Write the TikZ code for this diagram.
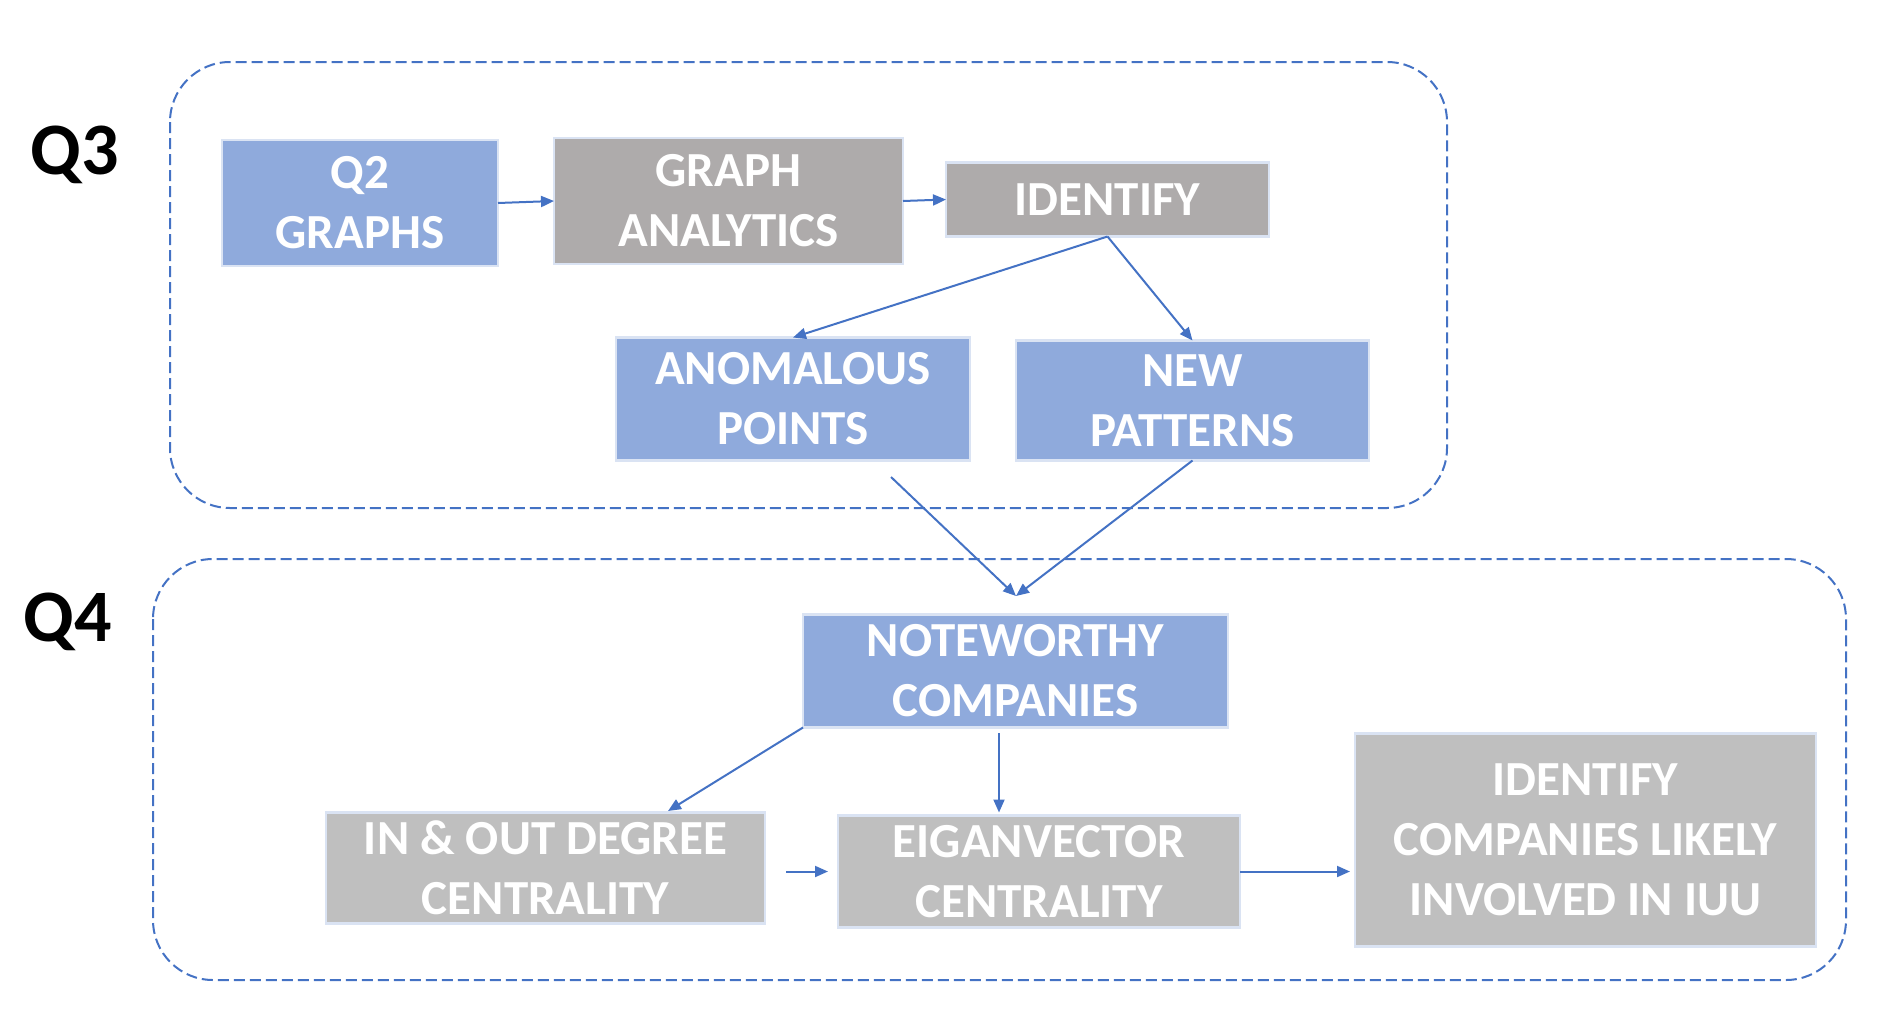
\documentclass[tikz,border=0pt]{standalone}
\usepackage{fontspec}
\setmainfont{Carlito}
\usetikzlibrary{arrows.meta,calc}
\definecolor{lineblue}{HTML}{4472C4}
\definecolor{boxblue}{HTML}{8FAADC}
\definecolor{boxgreyA}{HTML}{AEABAB}
\definecolor{boxgreyB}{HTML}{BFBFBF}
\definecolor{edgepale}{HTML}{DAE3F3}
\begin{document}
\begin{tikzpicture}[x=1pt,y=-1pt,
  box/.style={draw=edgepale, line width=2.5pt, inner sep=0pt, outer sep=0pt,
    text=white, align=center, font=\bfseries\fontsize{49}{60}\selectfont},
  bluebox/.style={box, fill=boxblue},
  greyA/.style={box, fill=boxgreyA},
  greyB/.style={box, fill=boxgreyB},
  group/.style={draw=lineblue, line width=2pt, dash pattern=on 11pt off 5pt, rounded corners=60pt},
  flow/.style={draw=lineblue, line width=2pt, -{Triangle[length=13pt,width=11pt]}},
  qlabel/.style={font=\bfseries\fontsize{74}{80}\selectfont, text=black, inner sep=0pt}
]
\useasboundingbox (0,0) rectangle (1880,1026);

% group frames
\draw[group] (170,62) rectangle (1447,508);
\draw[group] (153,559) rectangle (1846,980);
\node[qlabel] (lq3) at (75,155) {Q3};
\node[qlabel] (lq4) at (68,622) {Q4};

% upper stage
\node[bluebox, minimum width=276pt, minimum height=126pt] (q2) at (360,203) {Q2\\GRAPHS};
\node[greyA, minimum width=349pt, minimum height=126pt] (ga) at (728.5,201) {GRAPH\\ANALYTICS};
\node[greyA, minimum width=323pt, minimum height=74pt] (idf) at (1107.5,199.5) {IDENTIFY};
\node[bluebox, minimum width=354pt, minimum height=123pt] (anom) at (793,399) {ANOMALOUS\\POINTS};
\node[bluebox, minimum width=353pt, minimum height=120pt] (newp) at (1192.5,400.5) {NEW\\PATTERNS};

% lower stage
\node[bluebox, minimum width=425pt, minimum height=113pt] (nw) at (1015.5,671) {NOTEWORTHY\\COMPANIES};
\node[greyB, minimum width=439pt, minimum height=111pt] (inout) at (545.5,868) {IN \& OUT DEGREE\\CENTRALITY};
\node[greyB, minimum width=402pt, minimum height=112pt] (eig) at (1039,871.5) {EIGANVECTOR\\CENTRALITY};
\node[greyB, minimum width=461pt, minimum height=213pt] (idc) at (1585.5,840) {IDENTIFY\\COMPANIES LIKELY\\INVOLVED IN IUU};

% loose connector ends
\coordinate (anomout) at (891,477);
\coordinate (merge) at (1016,596);
\coordinate (inoutin) at (668,811);
\coordinate (nwdrop) at (999,733);

% connectors
\draw[flow] (q2.east) -- (ga.west);
\draw[flow] (ga.east) -- (idf.west);
\draw[flow] (idf.south) -- (anom.north);
\draw[flow] (idf.south) -- (newp.north);
\draw[flow] (anomout) -- (merge);
\draw[flow] (newp.south) -- (merge);
\draw[flow] (nw.south west) -- (inoutin);
\draw[flow, shorten >=3pt] (nwdrop) -- (nwdrop |- eig.north);
\draw[flow, shorten <=21pt, shorten >=10pt] (inout.east |- eig.east) -- (eig.west);
\draw[flow, shorten >=5pt] (eig.east) -- (eig.east -| idc.west);
\end{tikzpicture}
\end{document}
